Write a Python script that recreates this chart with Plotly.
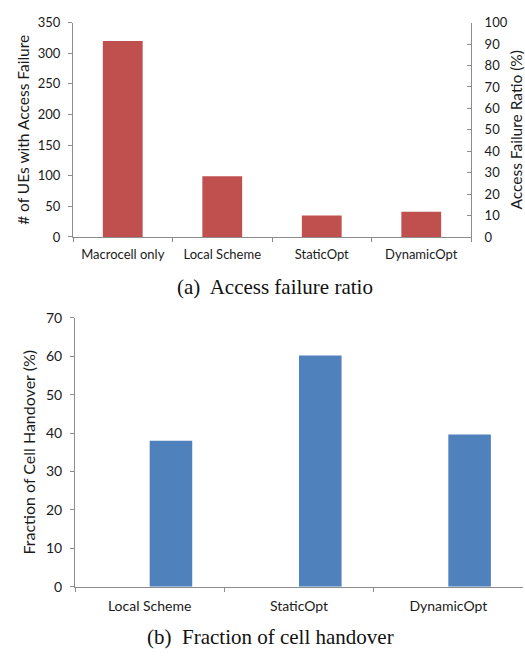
import plotly.graph_objects as go

# Access failure per scheme
schemes_a = ["Macrocell only", "Local Scheme", "StaticOpt", "DynamicOpt"]
failed_ues = [320, 99, 35, 41]

# Cell handover fraction per scheme
schemes_b = ["Local Scheme", "StaticOpt", "DynamicOpt"]
handover_pct = [38, 60.2, 39.6]

RED = "#C0504D"
BLUE = "#4F81BD"
AXIS_GRAY = "#8C8C8C"
SANS = "Lato, Noto Sans, sans-serif"
TICK_A = dict(family=SANS, size=13, color="#1a1a1a")
TICK_B = dict(family=SANS, size=14, color="#1a1a1a")
TITLE_A = dict(family=SANS, size=15.5, color="#1a1a1a")
TITLE_B = dict(family=SANS, size=16, color="#1a1a1a")
CAPTION_FONT = dict(family="Liberation Serif, DejaVu Serif, serif", size=21, color="#111111")

fig = go.Figure()

fig.add_trace(go.Bar(
    x=schemes_a, y=failed_ues, marker=dict(color=RED, line=dict(width=0)),
    width=0.4, xaxis="x", yaxis="y", showlegend=False,
))

fig.add_trace(go.Bar(
    x=schemes_b, y=handover_pct, marker=dict(color=BLUE, line=dict(width=0)),
    width=0.285, offset=0, xaxis="x2", yaxis="y3", showlegend=False,
))

# an invisible trace so the right-hand percentage axis is drawn
fig.add_trace(go.Scatter(x=[schemes_a[0]], y=[None], xaxis="x", yaxis="y2",
                         showlegend=False, hoverinfo="skip"))


def axis_style(font, ticks="outside", standoff=4):
    return dict(showgrid=False, zeroline=False, showline=True, linecolor=AXIS_GRAY,
                linewidth=1, ticks=ticks, tickcolor=AXIS_GRAY, ticklen=4,
                tickfont=font, ticklabelstandoff=standoff)


fig.update_layout(
    width=525, height=660,
    margin=dict(l=0, r=0, t=0, b=0),
    paper_bgcolor="white", plot_bgcolor="white",
    xaxis=dict(domain=[73 / 525, 471 / 525], anchor="y", tickson="boundaries",
               **axis_style(TICK_A, standoff=5)),
    yaxis=dict(domain=[(660 - 234) / 660, (660 - 14) / 660], anchor="x",
               range=[0, 350], dtick=50,
               title=dict(text="# of UEs with Access Failure", font=TITLE_A, standoff=4),
               **axis_style(TICK_A, standoff=5)),
    yaxis2=dict(overlaying="y", side="right", anchor="x", range=[0, 100], dtick=10,
                title=dict(text="Access Failure Ratio (%)", font=TITLE_A, standoff=6),
                **axis_style(TICK_A, ticks="inside", standoff=10)),
    xaxis2=dict(domain=[75 / 525, 523 / 525], anchor="y3", tickson="boundaries",
                **axis_style(TICK_B, standoff=6)),
    yaxis3=dict(domain=[(660 - 593) / 660, (660 - 317) / 660], anchor="x2",
                range=[0, 70], dtick=10,
                title=dict(text="Fraction of Cell Handover (%)", font=TITLE_B, standoff=6),
                **axis_style(TICK_B, standoff=5)),
    annotations=[
        dict(text="(a)  Access failure ratio", x=275 / 525, y=(660 - 285) / 660,
             xref="paper", yref="paper", showarrow=False, font=CAPTION_FONT,
             xanchor="center", yanchor="middle"),
        dict(text="(b)  Fraction of cell handover", x=270 / 525, y=(660 - 645) / 660,
             xref="paper", yref="paper", showarrow=False, font=CAPTION_FONT,
             xanchor="center", yanchor="middle"),
    ],
)

fig.write_html("out.html")
